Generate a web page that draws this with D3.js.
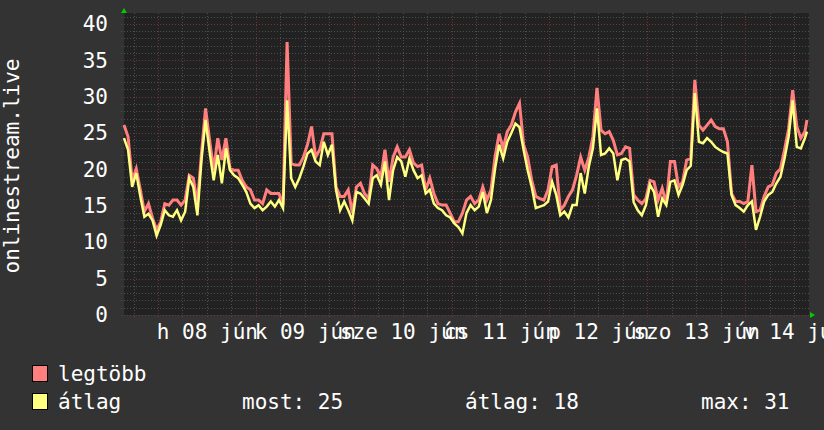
<!DOCTYPE html>
<html>
<head>
<meta charset="utf-8">
<script src="https://cdn.jsdelivr.net/npm/d3@7"></script>
<style>
	body { margin: 0; background: #333333; }
	#chart { width: 824px; height: 430px; }
	text { font-family: "DejaVu Sans Mono", monospace; fill: #ffffff; }
</style>
</head>
<body>
<div id="chart"></div>
<script>
// hourly values, first one at 2020-06-07 15:40
var startTime = new Date(2020, 5, 7, 15, 40);
var lastHour = 167.5;

var maxVals = [
	26.1, 24.5, 18.5, 20.1, 17.2, 14.2, 15.3, 13.3, 11.7, 12.8,
	15.3, 15.1, 15.8, 15.8, 15.1, 15.8, 19.2, 18.8, 15.3, 22.2,
	28.4, 24.0, 19.9, 24.3, 21.3, 24.3, 20.1, 19.9, 19.9, 18.5,
	17.6, 17.2, 15.8, 15.8, 15.3, 17.2, 16.7, 16.7, 16.7, 15.1,
	37.5, 20.8, 20.6, 20.6, 21.7, 23.4, 25.9, 21.7, 22.7, 24.9,
	24.9, 24.9, 17.6, 16.3, 16.3, 17.2, 14.0, 17.6, 18.1, 16.7,
	16.0, 20.6, 20.1, 19.0, 22.7, 18.3, 21.7, 23.1, 21.7, 21.7,
	22.7, 20.9, 20.4, 20.6, 17.2, 18.8, 16.7, 15.3, 15.1, 15.1,
	14.0, 12.8, 12.8, 14.0, 15.8, 16.3, 15.3, 15.8, 17.6, 15.8,
	17.2, 21.7, 24.9, 22.9, 25.2, 26.1, 27.9, 29.1, 23.4, 21.7,
	18.5, 16.3, 16.0, 15.8, 17.2, 20.4, 20.6, 14.4, 15.1, 16.3,
	17.2, 19.2, 21.7, 19.9, 21.7, 24.5, 31.2, 25.4, 24.9, 25.2,
	24.0, 22.0, 22.2, 23.1, 22.9, 16.5, 15.8, 15.3, 16.0, 18.5,
	18.3, 15.8, 17.4, 15.3, 21.1, 21.1, 17.6, 18.3, 21.3, 21.5,
	32.3, 26.1, 25.4, 26.1, 26.8, 25.9, 25.6, 25.6, 23.8, 16.7,
	15.6, 15.6, 15.3, 15.6, 20.6, 14.2, 14.4, 16.3, 17.6, 17.9,
	19.5, 20.1, 22.7, 25.6, 30.9, 25.9, 24.3, 25.2, 26.8
];

var avgVals = [
	24.3, 22.7, 17.6, 19.5, 16.3, 13.5, 13.9, 13.0, 10.9, 12.4,
	14.4, 13.7, 13.5, 14.4, 13.0, 14.2, 18.8, 17.6, 13.7, 21.3,
	26.8, 22.4, 18.5, 22.0, 18.1, 22.9, 19.9, 19.2, 18.8, 17.9,
	16.9, 15.3, 14.7, 15.1, 14.4, 14.9, 15.6, 14.9, 15.8, 14.7,
	29.5, 18.8, 17.6, 18.8, 20.4, 22.2, 22.7, 21.1, 20.6, 23.8,
	22.0, 23.4, 17.2, 14.4, 15.6, 14.4, 13.0, 16.9, 16.7, 16.0,
	15.3, 18.8, 19.2, 17.9, 21.1, 15.8, 19.9, 21.7, 21.1, 19.0,
	21.5, 19.9, 18.8, 19.2, 16.7, 17.2, 15.3, 14.7, 14.4, 13.7,
	13.4, 12.6, 12.1, 11.2, 14.0, 15.1, 14.4, 14.9, 16.9, 14.0,
	15.8, 20.1, 23.4, 21.5, 23.8, 25.0, 26.3, 25.8, 22.7, 19.9,
	17.6, 14.7, 14.9, 15.1, 15.6, 18.3, 16.5, 13.7, 14.2, 13.4,
	15.1, 15.1, 19.5, 16.7, 20.4, 22.9, 28.4, 22.0, 22.2, 22.9,
	22.2, 18.5, 21.3, 21.5, 21.1, 15.5, 14.4, 13.7, 15.1, 17.9,
	16.9, 13.5, 16.0, 15.1, 18.3, 18.5, 16.5, 17.9, 19.9, 20.5,
	30.5, 23.8, 23.6, 24.3, 23.8, 23.1, 22.7, 22.4, 22.2, 16.5,
	15.1, 14.7, 14.2, 15.1, 15.6, 11.7, 13.5, 15.6, 16.5, 16.9,
	18.1, 19.0, 21.5, 24.5, 29.5, 23.1, 22.9, 24.3, 25.2
];

var dayLabels = ["h 08 jún", "k 09 jún", "sze 10 jún", "cs 11 jún", "p 12 jún", "szo 13 jún", "v 14 jún"];
var yTicks = [0, 5, 10, 15, 20, 25, 30, 35, 40];
var seriesNames = ["legtöbb", "átlag"];
var seriesColors = ["#ff7f7f", "#ffff80"];
var statLabels = ["most: 25", "átlag: 18", "max: 31"];
var yTitle = "onlinestream.live";

var width = 824, height = 430;
var svg = d3.select("#chart")
	.append("svg")
	.attr("width", width)
	.attr("height", height);

svg.append("rect")
	.attr("width", width)
	.attr("height", height)
	.attr("fill", "#333333");

var plotLeft = 124, plotRight = 809, plotTop = 13, plotBottom = 315;
var endTime = d3.timeDay.offset(startTime, 7);

var x = d3.scaleTime().domain([startTime, endTime]).range([plotLeft, plotRight]);
var y = d3.scaleLinear().domain([0, 41.5]).range([plotBottom, plotTop]);

svg.append("rect")
	.attr("x", plotLeft)
	.attr("y", plotTop)
	.attr("width", plotRight - plotLeft)
	.attr("height", plotBottom - plotTop)
	.attr("fill", "#222222");

// grid
var grid = svg.append("g").attr("shape-rendering", "crispEdges");

d3.range(0, 42, 1).forEach(function(v) {
	grid.append("line")
		.attr("x1", plotLeft - 3).attr("x2", plotRight)
		.attr("y1", Math.round(y(v)) + 0.5).attr("y2", Math.round(y(v)) + 0.5)
		.attr("stroke", v % 5 == 0 ? "#6e3636" : "#4e4e4e")
		.attr("stroke-dasharray", "1,2");
});

d3.timeHour.every(6).range(startTime, endTime).forEach(function(t) {
	var major = t.getHours() == 0;
	grid.append("line")
		.attr("x1", Math.round(x(t)) + 0.5).attr("x2", Math.round(x(t)) + 0.5)
		.attr("y1", plotTop).attr("y2", plotBottom + 3)
		.attr("stroke", major ? "#6e3636" : "#4e4e4e")
		.attr("stroke-dasharray", "1,2");
});

// lines
function toPoints(vals) {
	return vals.map(function(v, i) {
		return { t: d3.timeMinute.offset(startTime, Math.min(i, lastHour) * 60), v: v };
	});
}

var line = d3.line()
	.x(function(d) { return x(d.t); })
	.y(function(d) { return y(d.v); });

[maxVals, avgVals].forEach(function(vals, k) {
	svg.append("path")
		.datum(toPoints(vals))
		.attr("fill", "none")
		.attr("stroke", seriesColors[k])
		.attr("stroke-width", k == 0 ? 3 : 2.5)
		.attr("stroke-linejoin", "miter")
		.attr("d", line);
});

// y axis
var yAxis = d3.axisLeft(y).tickValues(yTicks).tickSize(0).tickPadding(16);
var gy = svg.append("g")
	.attr("transform", "translate(" + plotLeft + ",0)")
	.call(yAxis);
gy.select(".domain").remove();
gy.selectAll("text")
	.attr("font-size", 21)
	.attr("fill", "#ffffff")
	.style("font-family", "DejaVu Sans Mono");

// x axis labels at noon
var noons = d3.range(1, 8).map(function(d) {
	return d3.timeHour.offset(d3.timeDay.floor(startTime), d * 24 + 12);
});
var xAxis = d3.axisBottom(x).tickValues(noons).tickSize(0).tickPadding(9)
	.tickFormat(function(d, i) { return dayLabels[i]; });
var gx = svg.append("g")
	.attr("transform", "translate(0," + plotBottom + ")")
	.call(xAxis);
gx.select(".domain").remove();
gx.selectAll("text")
	.attr("font-size", 21)
	.attr("fill", "#ffffff")
	.style("font-family", "DejaVu Sans Mono");

// arrows
svg.append("path")
	.attr("d", "M" + (plotLeft - 3) + "," + plotTop + "L" + (plotLeft + 3) + "," + plotTop + "L" + plotLeft + "," + (plotTop - 5) + "Z")
	.attr("fill", "#00cc00");
svg.append("path")
	.attr("d", "M" + (plotRight + 1) + "," + (plotBottom - 3) + "L" + (plotRight + 1) + "," + (plotBottom + 3) + "L" + (plotRight + 6) + "," + plotBottom + "Z")
	.attr("fill", "#00cc00");

// y title
svg.append("text")
	.attr("transform", "translate(19,166) rotate(-90)")
	.attr("text-anchor", "middle")
	.attr("font-size", 21)
	.text(yTitle);

// legend
seriesNames.forEach(function(name, i) {
	var ly = 365 + i * 28;
	svg.append("rect")
		.attr("x", 32.5).attr("y", ly + 0.5)
		.attr("width", 15).attr("height", 16)
		.attr("fill", seriesColors[i])
		.attr("stroke", "#000000");
	svg.append("text")
		.attr("x", 58).attr("y", ly + 16)
		.attr("font-size", 21)
		.text(name);
});

var statX = [242, 465, 701];
statLabels.forEach(function(s, i) {
	svg.append("text")
		.attr("x", statX[i]).attr("y", 409)
		.attr("font-size", 21)
		.text(s);
});
</script>
</body>
</html>
